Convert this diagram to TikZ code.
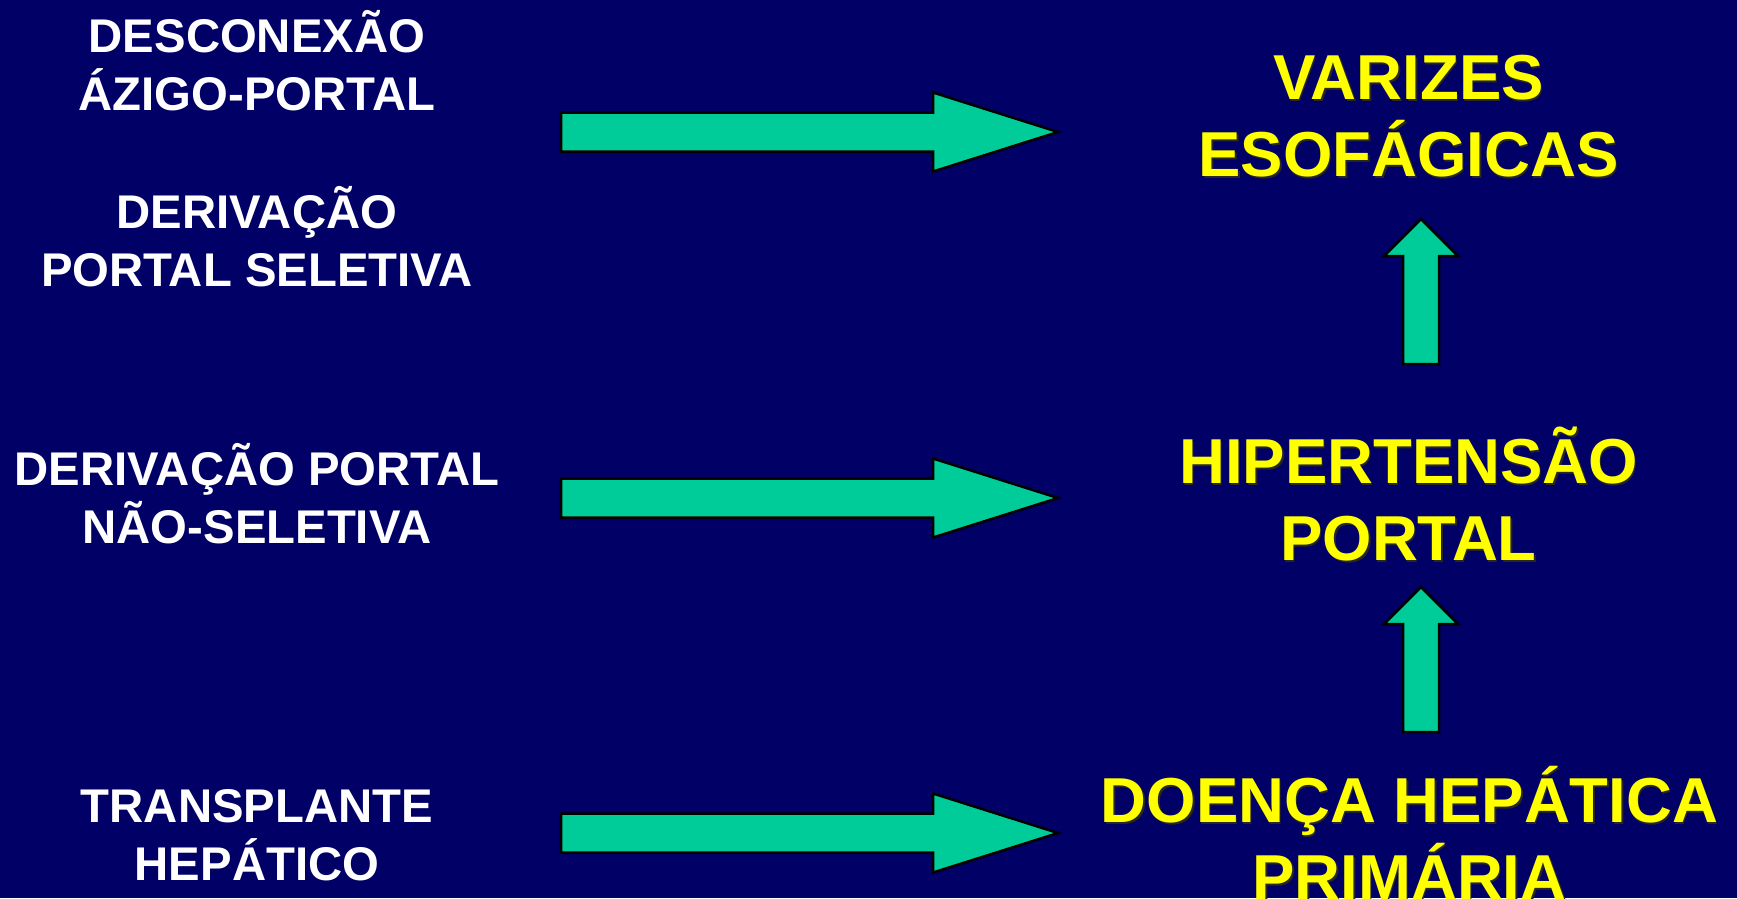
\documentclass[tikz,border=0pt]{standalone}
\usepackage{fontspec}
\setmainfont{Liberation Sans}
\definecolor{bgnavy}{RGB}{0,0,102}
\definecolor{arrowgreen}{RGB}{0,204,153}
\definecolor{txtyellow}{RGB}{255,255,0}
\definecolor{shadowcol}{RGB}{40,40,30}
\tikzset{
  lefttext/.style={inner sep=0pt, anchor=base, align=center, text=white,
    font=\fontsize{47.3}{58}\selectfont\bfseries},
  righttext/.style={inner sep=0pt, anchor=base, align=center, text=txtyellow,
    font=\fontsize{63.5}{77}\selectfont\bfseries},
  rightshadow/.style={righttext, text=shadowcol},
  blockarrow/.style={fill=arrowgreen, draw=black, line width=2.5pt, line join=miter}
}
\begin{document}
\begin{tikzpicture}[x=1pt,y=-1pt]
\fill[bgnavy] (0,0) rectangle (1737,898);
\useasboundingbox (0,0) rectangle (1737,898);

% left texts (anchor = baseline of last line)
\node[lefttext] (desc) at (257,110) {DESCONEXÃO\\ÁZIGO-PORTAL};
\node[lefttext] (dsel) at (257,286) {DERIVAÇÃO\\PORTAL SELETIVA};
\node[lefttext] (dnsel) at (257,543) {DERIVAÇÃO PORTAL\\NÃO-SELETIVA};
\node[lefttext] (transp) at (257,880) {TRANSPLANTE\\HEPÁTICO};

% right texts (with subtle shadow)
\node[rightshadow] at (1410,178) {VARIZES\\ESOFÁGICAS};
\node[righttext] (varizes) at (1408.5,176) {VARIZES\\ESOFÁGICAS};
\node[rightshadow] at (1410,562) {HIPERTENSÃO\\PORTAL};
\node[righttext] (hiper) at (1408.5,560) {HIPERTENSÃO\\PORTAL};
\node[rightshadow] at (1411,901) {DOENÇA HEPÁTICA\\PRIMÁRIA};
\node[righttext] (doenca) at (1409.5,899) {DOENÇA HEPÁTICA\\PRIMÁRIA};

% right-pointing block arrows
\foreach \c in {132,498,833}{
  \draw[blockarrow] (561,\c-19.5) -- (933,\c-19.5) -- (933,\c-39.5) -- (1058,\c)
    -- (933,\c+39.5) -- (933,\c+19.5) -- (561,\c+19.5) -- cycle;
}
% upward block arrows
\foreach \t in {0,368}{
  \draw[blockarrow] (1403,364+\t) -- (1403,256+\t) -- (1384,256+\t) -- (1421,219+\t)
    -- (1458,256+\t) -- (1439,256+\t) -- (1439,364+\t) -- cycle;
}
\end{tikzpicture}
\end{document}
